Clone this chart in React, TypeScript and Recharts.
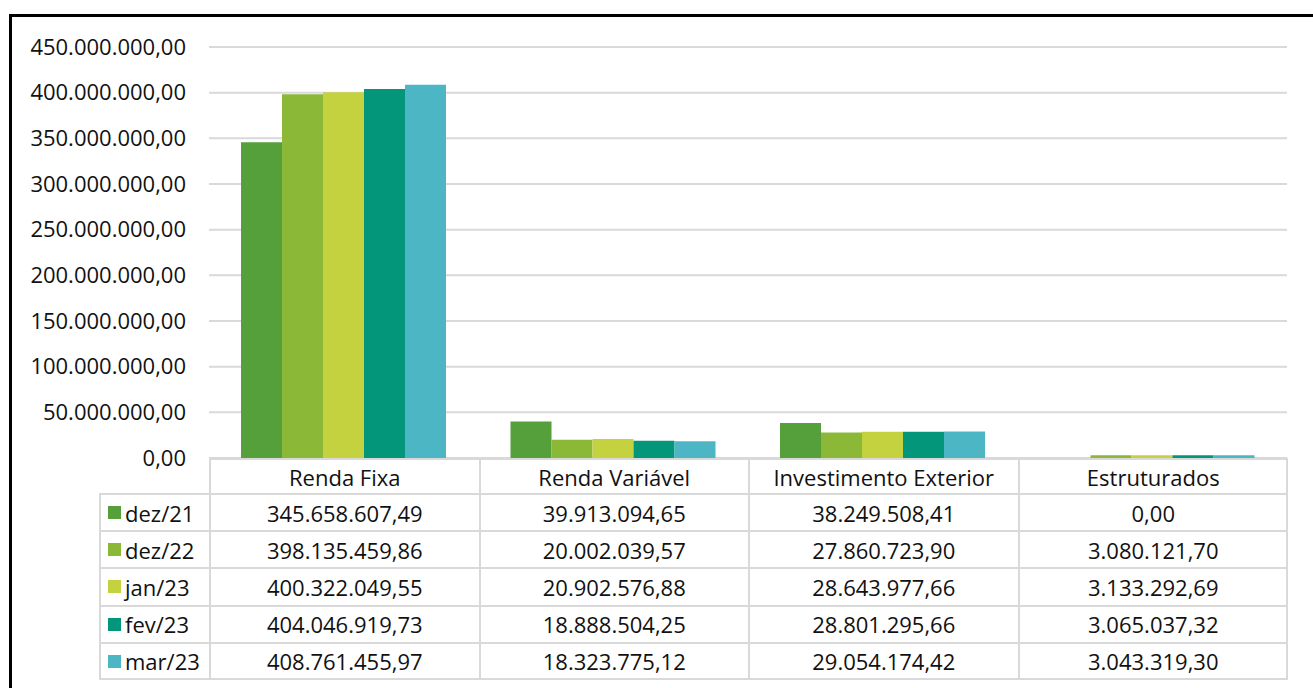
import { BarChart, Bar, XAxis, YAxis, CartesianGrid } from 'recharts';

const categories = ['Renda Fixa', 'Renda Variável', 'Investimento Exterior', 'Estruturados'];
const periods = ['dez/21', 'dez/22', 'jan/23', 'fev/23', 'mar/23'];
const dez21 = [345658607.49, 39913094.65, 38249508.41, 0];
const dez22 = [398135459.86, 20002039.57, 27860723.9, 3080121.7];
const jan23 = [400322049.55, 20902576.88, 28643977.66, 3133292.69];
const fev23 = [404046919.73, 18888504.25, 28801295.66, 3065037.32];
const mar23 = [408761455.97, 18323775.12, 29054174.42, 3043319.3];
const yTicks = [0, 50e6, 100e6, 150e6, 200e6, 250e6, 300e6, 350e6, 400e6, 450e6];
const colors = ['#55A03B', '#8CB838', '#C5D240', '#04967A', '#4CB6C5'];

const seriesValues = [dez21, dez22, jan23, fev23, mar23];
const data = categories.map((name, i) => {
  const row: Record<string, string | number> = { name };
  periods.forEach((p, k) => { row[p] = seriesValues[k][i]; });
  return row;
});

// pt-BR style number: 1.234.567,89
const fmt = (v: number) => {
  const [int, dec] = v.toFixed(2).split('.');
  return int.replace(/\B(?=(\d{3})+(?!\d))/g, '.') + ',' + dec;
};

const FONT = '"Open Sans", "Noto Sans", sans-serif';
const FS = 22;
const W = 1313;
const H = 688;
const PLOT_LEFT = 209;
const PLOT_RIGHT = 1287;
const PLOT_TOP = 47;
const PLOT_BOTTOM = 458;
const LEGEND_LEFT = 99;
const HEADER_H = 35;
const ROW_H = 37.2;
const LINE = '#D9D9D9';

const cell = {
  position: 'absolute' as const,
  borderLeft: `2px solid ${LINE}`,
  borderTop: `2px solid ${LINE}`,
  boxSizing: 'border-box' as const,
  display: 'flex',
  alignItems: 'center',
  whiteSpace: 'nowrap' as const,
};

export default function App() {
  const colW = (PLOT_RIGHT - PLOT_LEFT) / categories.length;
  return (
    <div style={{ position: 'absolute', left: 0, top: 0, width: W, height: H, overflow: 'hidden', background: '#fff', fontFamily: FONT }}>
      <div style={{ position: 'absolute', left: 9, top: 14, width: 1400, height: 800, border: '3px solid #000' }} />
      <div style={{ position: 'absolute', left: 0, top: 0 }}>
        <BarChart
          width={W}
          height={H}
          data={data}
          margin={{ top: PLOT_TOP, right: W - PLOT_RIGHT, bottom: H - PLOT_BOTTOM, left: 0 }}
          barCategoryGap={32}
          barGap={0}
        >
          <CartesianGrid vertical={false} stroke={LINE} strokeWidth={2} />
          <XAxis dataKey="name" hide />
          <YAxis
            width={PLOT_LEFT}
            domain={[0, 450e6]}
            ticks={yTicks}
            tickFormatter={fmt}
            axisLine={false}
            tickLine={false}
            tickMargin={17}
            tick={{ fill: '#111', fontSize: FS, fontFamily: FONT }}
          />
          {periods.map((p, k) => (
            <Bar key={p} dataKey={p} fill={colors[k]} isAnimationActive={false} />
          ))}
        </BarChart>
      </div>
      {/* data table under the plot */}
      <div style={{ position: 'absolute', left: 0, top: 0, width: W, height: H, fontSize: FS, color: '#111' }}>
        {categories.map((c, i) => (
          <div
            key={c}
            style={{ ...cell, left: PLOT_LEFT + i * colW, top: PLOT_BOTTOM, width: colW, height: HEADER_H, justifyContent: 'center' }}
          >
            {c}
          </div>
        ))}
        <div style={{ position: 'absolute', left: PLOT_RIGHT - 1, top: PLOT_BOTTOM, width: 2, height: HEADER_H + ROW_H * periods.length, background: LINE }} />
        {periods.map((p, k) => {
          const top = PLOT_BOTTOM + HEADER_H + k * ROW_H;
          return (
            <div key={p}>
              <div style={{ ...cell, left: LEGEND_LEFT, top, width: PLOT_LEFT - LEGEND_LEFT, height: ROW_H, paddingLeft: 7 }}>
                <span style={{ display: 'inline-block', width: 13, height: 13, background: colors[k], marginRight: 4 }} />
                {p}
              </div>
              {categories.map((c, i) => (
                <div
                  key={c}
                  style={{ ...cell, left: PLOT_LEFT + i * colW, top, width: colW, height: ROW_H, justifyContent: 'center' }}
                >
                  {fmt(seriesValues[k][i])}
                </div>
              ))}
            </div>
          );
        })}
        <div style={{ position: 'absolute', left: LEGEND_LEFT, top: PLOT_BOTTOM + HEADER_H + ROW_H * periods.length - 1, width: PLOT_RIGHT - LEGEND_LEFT + 1, height: 2, background: LINE }} />
      </div>
    </div>
  );
}
